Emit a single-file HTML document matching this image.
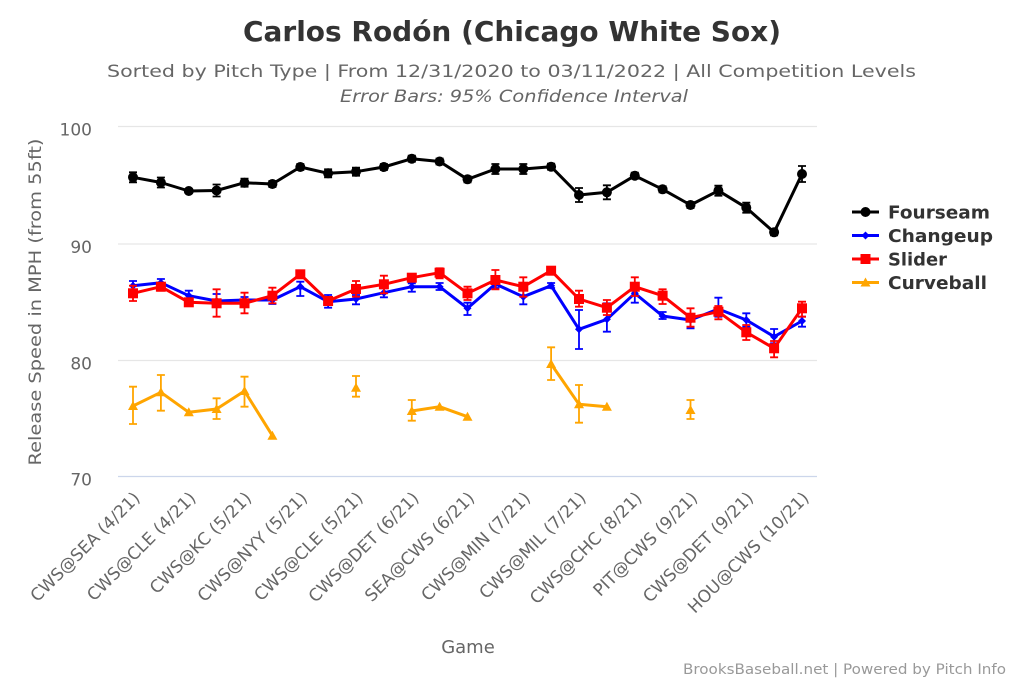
<!DOCTYPE html>
<html><head><meta charset="utf-8"><style>
html,body{margin:0;padding:0;background:#fff;}
svg{display:block;}
text{font-family:"DejaVu Sans","Liberation Sans",sans-serif;}
</style></head><body>
<svg width="1024" height="683" viewBox="0 0 1024 683" xmlns="http://www.w3.org/2000/svg">
<rect width="1024" height="683" fill="#fff"/>
<!-- titles -->
<text x="512" y="41" text-anchor="middle" font-size="28" font-weight="bold" fill="#333" textLength="538" lengthAdjust="spacingAndGlyphs">Carlos Rodón (Chicago White Sox)</text>
<text x="511.5" y="77" text-anchor="middle" font-size="17" fill="#666" textLength="809" lengthAdjust="spacingAndGlyphs">Sorted by Pitch Type | From 12/31/2020 to 03/11/2022 | All Competition Levels</text>
<text x="514" y="102" text-anchor="middle" font-size="17" font-style="italic" fill="#666" textLength="348" lengthAdjust="spacingAndGlyphs">Error Bars: 95% Confidence Interval</text>
<!-- grid -->
<g stroke="#e6e6e6" stroke-width="1.3">
<line x1="118" x2="817" y1="126.5" y2="126.5"/>
<line x1="118" x2="817" y1="244" y2="244"/>
<line x1="118" x2="817" y1="360.5" y2="360.5"/>
</g>
<line x1="118" x2="817" y1="476.5" y2="476.5" stroke="#ccd6eb" stroke-width="1.3"/>
<!-- y ticks -->
<g font-size="17" fill="#666" text-anchor="end">
<text x="92" y="135.5">100</text>
<text x="92" y="253">90</text>
<text x="92" y="369.5">80</text>
<text x="92" y="485.5">70</text>
</g>
<text transform="translate(41,302) rotate(-90)" text-anchor="middle" font-size="17" fill="#666" textLength="327" lengthAdjust="spacingAndGlyphs">Release Speed in MPH (from 55ft)</text>
<!-- x labels -->
<g font-size="17" fill="#666" text-anchor="end">
<text transform="translate(141,499) rotate(-45)">CWS@SEA (4/21)</text>
<text transform="translate(196.8,499) rotate(-45)">CWS@CLE (4/21)</text>
<text transform="translate(252.5,499) rotate(-45)">CWS@KC (5/21)</text>
<text transform="translate(308.3,499) rotate(-45)">CWS@NYY (5/21)</text>
<text transform="translate(364,499) rotate(-45)">CWS@CLE (5/21)</text>
<text transform="translate(419.8,499) rotate(-45)">CWS@DET (6/21)</text>
<text transform="translate(475.5,499) rotate(-45)">SEA@CWS (6/21)</text>
<text transform="translate(531.3,499) rotate(-45)">CWS@MIN (7/21)</text>
<text transform="translate(587,499) rotate(-45)">CWS@MIL (7/21)</text>
<text transform="translate(642.8,499) rotate(-45)">CWS@CHC (8/21)</text>
<text transform="translate(698.5,499) rotate(-45)">PIT@CWS (9/21)</text>
<text transform="translate(754.3,499) rotate(-45)">CWS@DET (9/21)</text>
<text transform="translate(810,499) rotate(-45)">HOU@CWS (10/21)</text>
</g>
<text x="468" y="653" text-anchor="middle" font-size="18" fill="#666">Game</text>
<text x="1006" y="674" text-anchor="end" font-size="14" fill="#999" textLength="323" lengthAdjust="spacingAndGlyphs">BrooksBaseball.net | Powered by Pitch Info</text>

<!-- Fourseam -->
<g stroke="#000" stroke-width="1.8" fill="none">
<path d="M133 172.3V182.3M129 172.3H137M129 182.3H137
M160.9 177.5V187.5M156.9 177.5H164.9M156.9 187.5H164.9
M188.8 189V193M184.8 189H192.8M184.8 193H192.8
M216.6 184.5V196.5M212.6 184.5H220.6M212.6 196.5H220.6
M244.5 178.7V186.7M240.5 178.7H248.5M240.5 186.7H248.5
M272.4 181V187M268.4 181H276.4M268.4 187H276.4
M300.3 164V170M296.3 164H304.3M296.3 170H304.3
M328.1 169.3V177.3M324.1 169.3H332.1M324.1 177.3H332.1
M356 167.7V175.7M352 167.7H360M352 175.7H360
M383.9 164V170M379.9 164H387.9M379.9 170H387.9
M411.8 155.7V161.7M407.8 155.7H415.8M407.8 161.7H415.8
M439.6 158.5V164.5M435.6 158.5H443.6M435.6 164.5H443.6
M467.5 176.3V182.3M463.5 176.3H471.5M463.5 182.3H471.5
M495.4 164V174M491.4 164H499.4M491.4 174H499.4
M523.3 164V174M519.3 164H527.3M519.3 174H527.3
M551.1 163.7V169.7M547.1 163.7H555.1M547.1 169.7H555.1
M579 188V202M575 188H583M575 202H583
M606.9 185.3V199.3M602.9 185.3H610.9M602.9 199.3H610.9
M634.8 172.7V178.7M630.8 172.7H638.8M630.8 178.7H638.8
M662.6 186.3V192.3M658.6 186.3H666.6M658.6 192.3H666.6
M690.5 202V208M686.5 202H694.5M686.5 208H694.5
M718.4 185.7V195.7M714.4 185.7H722.4M714.4 195.7H722.4
M746.3 202.7V212.7M742.3 202.7H750.3M742.3 212.7H750.3
M774.1 229.3V235.3M770.1 229.3H778.1M770.1 235.3H778.1
M802 166V182M798 166H806M798 182H806"/>
</g>
<polyline fill="none" stroke="#000" stroke-width="3" stroke-linejoin="round" points="133,177.3 160.9,182.5 188.8,191 216.6,190.5 244.5,182.7 272.4,184 300.3,167 328.1,173.3 356,171.7 383.9,167 411.8,158.7 439.6,161.5 467.5,179.3 495.4,169 523.3,169 551.1,166.7 579,195 606.9,192.3 634.8,175.7 662.6,189.3 690.5,205 718.4,190.7 746.3,207.7 774.1,232.3 802,174"/>
<g fill="#000">
<circle cx="133" cy="177.3" r="5"/><circle cx="160.9" cy="182.5" r="5"/><circle cx="188.8" cy="191" r="5"/><circle cx="216.6" cy="190.5" r="5"/><circle cx="244.5" cy="182.7" r="5"/><circle cx="272.4" cy="184" r="5"/><circle cx="300.3" cy="167" r="5"/><circle cx="328.1" cy="173.3" r="5"/><circle cx="356" cy="171.7" r="5"/><circle cx="383.9" cy="167" r="5"/><circle cx="411.8" cy="158.7" r="5"/><circle cx="439.6" cy="161.5" r="5"/><circle cx="467.5" cy="179.3" r="5"/><circle cx="495.4" cy="169" r="5"/><circle cx="523.3" cy="169" r="5"/><circle cx="551.1" cy="166.7" r="5"/><circle cx="579" cy="195" r="5"/><circle cx="606.9" cy="192.3" r="5"/><circle cx="634.8" cy="175.7" r="5"/><circle cx="662.6" cy="189.3" r="5"/><circle cx="690.5" cy="205" r="5"/><circle cx="718.4" cy="190.7" r="5"/><circle cx="746.3" cy="207.7" r="5"/><circle cx="774.1" cy="232.3" r="5"/><circle cx="802" cy="174" r="5"/>
</g>

<!-- Changeup -->
<g stroke="#0000ff" stroke-width="1.8" fill="none">
<path d="M133 281V290M129 281H137M129 290H137
M160.9 279V286M156.9 279H164.9M156.9 286H164.9
M188.8 290.7V300M184.8 290.7H192.8M184.8 300H192.8
M216.6 294V303M212.6 294H220.6M212.6 303H220.6
M244.5 297V303M240.5 297H248.5M240.5 303H248.5
M272.4 296V304M268.4 296H276.4M268.4 304H276.4
M300.3 281.7V296M296.3 281.7H304.3M296.3 296H304.3
M328.1 295V307.7M324.1 295H332.1M324.1 307.7H332.1
M356 295V304.3M352 295H360M352 304.3H360
M383.9 288.3V297.3M379.9 288.3H387.9M379.9 297.3H387.9
M411.8 283.3V291.7M407.8 283.3H415.8M407.8 291.7H415.8
M439.6 283V290M435.6 283H443.6M435.6 290H443.6
M467.5 302.7V315M463.5 302.7H471.5M463.5 315H471.5
M495.4 280V288M491.4 280H499.4M491.4 288H499.4
M523.3 290V304.3M519.3 290H527.3M519.3 304.3H527.3
M551.1 283V288M547.1 283H555.1M547.1 288H555.1
M579 310V349M575 310H583M575 349H583
M606.9 303.3V331.7M602.9 303.3H610.9M602.9 331.7H610.9
M634.8 286.7V302.7M630.8 286.7H638.8M630.8 302.7H638.8
M662.6 312V319M658.6 312H666.6M658.6 319H666.6
M690.5 315V328.3M686.5 315H694.5M686.5 328.3H694.5
M718.4 297.7V316.7M714.4 297.7H722.4M714.4 316.7H722.4
M746.3 313.3V326.7M742.3 313.3H750.3M742.3 326.7H750.3
M774.1 329V343.3M770.1 329H778.1M770.1 343.3H778.1
M802 316.7V326.7M798 316.7H806M798 326.7H806"/>
</g>
<polyline fill="none" stroke="#0000ff" stroke-width="3" stroke-linejoin="round" points="133,285.7 160.9,282.7 188.8,295.7 216.6,301 244.5,300 272.4,300 300.3,286.7 328.1,301.7 356,299 383.9,292.7 411.8,286.7 439.6,286.7 467.5,308.3 495.4,284 523.3,296.7 551.1,285.7 579,329.3 606.9,319.3 634.8,293.3 662.6,316 690.5,320 718.4,309 746.3,320 774.1,336.7 802,321"/>
<g fill="#0000ff">
<path d="M133 281.7l4 4-4 4-4-4z M160.9 278.7l4 4-4 4-4-4z M188.8 291.7l4 4-4 4-4-4z M216.6 297l4 4-4 4-4-4z M244.5 296l4 4-4 4-4-4z M272.4 296l4 4-4 4-4-4z M300.3 282.7l4 4-4 4-4-4z M328.1 297.7l4 4-4 4-4-4z M356 295l4 4-4 4-4-4z M383.9 288.7l4 4-4 4-4-4z M411.8 282.7l4 4-4 4-4-4z M439.6 282.7l4 4-4 4-4-4z M467.5 304.3l4 4-4 4-4-4z M495.4 280l4 4-4 4-4-4z M523.3 292.7l4 4-4 4-4-4z M551.1 281.7l4 4-4 4-4-4z M579 325.3l4 4-4 4-4-4z M606.9 315.3l4 4-4 4-4-4z M634.8 289.3l4 4-4 4-4-4z M662.6 312l4 4-4 4-4-4z M690.5 316l4 4-4 4-4-4z M718.4 305l4 4-4 4-4-4z M746.3 316l4 4-4 4-4-4z M774.1 332.7l4 4-4 4-4-4z M802 317l4 4-4 4-4-4z"/>
</g>

<!-- Slider -->
<g stroke="#ff0000" stroke-width="1.8" fill="none">
<path d="M133 285.7V301M129 285.7H137M129 301H137
M160.9 283.3V290.7M156.9 283.3H164.9M156.9 290.7H164.9
M188.8 299V305M184.8 299H192.8M184.8 305H192.8
M216.6 289.3V316.7M212.6 289.3H220.6M212.6 316.7H220.6
M244.5 292.7V313.3M240.5 292.7H248.5M240.5 313.3H248.5
M272.4 287.7V303.3M268.4 287.7H276.4M268.4 303.3H276.4
M300.3 271V277M296.3 271H304.3M296.3 277H304.3
M328.1 298V304M324.1 298H332.1M324.1 304H332.1
M356 281V296.7M352 281H360M352 296.7H360
M383.9 275.7V293.3M379.9 275.7H387.9M379.9 293.3H387.9
M411.8 274V281M407.8 274H415.8M407.8 281H415.8
M439.6 268.3V278.3M435.6 268.3H443.6M435.6 278.3H443.6
M467.5 286.7V300M463.5 286.7H471.5M463.5 300H471.5
M495.4 270V289.3M491.4 270H499.4M491.4 289.3H499.4
M523.3 277.3V296.7M519.3 277.3H527.3M519.3 296.7H527.3
M551.1 268V273M547.1 268H555.1M547.1 273H555.1
M579 290.7V306.7M575 290.7H583M575 306.7H583
M606.9 300V315M602.9 300H610.9M602.9 315H610.9
M634.8 277.3V296M630.8 277.3H638.8M630.8 296H638.8
M662.6 289.3V304M658.6 289.3H666.6M658.6 304H666.6
M690.5 308.3V326.7M686.5 308.3H694.5M686.5 326.7H694.5
M718.4 306V319.3M714.4 306H722.4M714.4 319.3H722.4
M746.3 325V340M742.3 325H750.3M742.3 340H750.3
M774.1 341V357.3M770.1 341H778.1M770.1 357.3H778.1
M802 301.7V316.7M798 301.7H806M798 316.7H806"/>
</g>
<polyline fill="none" stroke="#ff0000" stroke-width="3" stroke-linejoin="round" points="133,293.3 160.9,286.7 188.8,302.3 216.6,303.3 244.5,303.3 272.4,295.7 300.3,274.3 328.1,301 356,289 383.9,284.3 411.8,277.7 439.6,272.7 467.5,293.3 495.4,280 523.3,286.7 551.1,270.7 579,299 606.9,307.7 634.8,286.7 662.6,295.7 690.5,317.7 718.4,311.7 746.3,332.3 774.1,348.3 802,308.3"/>
<g fill="#ff0000">
<rect x="128" y="288.3" width="10" height="10"/><rect x="155.9" y="281.7" width="10" height="10"/><rect x="183.8" y="297.3" width="10" height="10"/><rect x="211.6" y="298.3" width="10" height="10"/><rect x="239.5" y="298.3" width="10" height="10"/><rect x="267.4" y="290.7" width="10" height="10"/><rect x="295.3" y="269.3" width="10" height="10"/><rect x="323.1" y="296" width="10" height="10"/><rect x="351" y="284" width="10" height="10"/><rect x="378.9" y="279.3" width="10" height="10"/><rect x="406.8" y="272.7" width="10" height="10"/><rect x="434.6" y="267.7" width="10" height="10"/><rect x="462.5" y="288.3" width="10" height="10"/><rect x="490.4" y="275" width="10" height="10"/><rect x="518.3" y="281.7" width="10" height="10"/><rect x="546.1" y="265.7" width="10" height="10"/><rect x="574" y="294" width="10" height="10"/><rect x="601.9" y="302.7" width="10" height="10"/><rect x="629.8" y="281.7" width="10" height="10"/><rect x="657.6" y="290.7" width="10" height="10"/><rect x="685.5" y="312.7" width="10" height="10"/><rect x="713.4" y="306.7" width="10" height="10"/><rect x="741.3" y="327.3" width="10" height="10"/><rect x="769.1" y="343.3" width="10" height="10"/><rect x="797" y="303.3" width="10" height="10"/>
</g>

<!-- Curveball -->
<g stroke="#ffa500" stroke-width="1.8" fill="none">
<path d="M133 386.7V424M129 386.7H137M129 424H137
M160.9 375V410.7M156.9 375H164.9M156.9 410.7H164.9
M216.6 398.3V419M212.6 398.3H220.6M212.6 419H220.6
M244.5 376.7V406.7M240.5 376.7H248.5M240.5 406.7H248.5
M356 376V396.7M352 376H360M352 396.7H360
M411.8 400V420.7M407.8 400H415.8M407.8 420.7H415.8
M551.1 347.3V380M547.1 347.3H555.1M547.1 380H555.1
M579 385V422.7M575 385H583M575 422.7H583
M690.5 400V419M686.5 400H694.5M686.5 419H694.5"/>
</g>
<g fill="none" stroke="#ffa500" stroke-width="3" stroke-linejoin="round">
<polyline points="133,406 160.9,392.3 188.8,412.3 216.6,409 244.5,391 272.4,435.7"/>
<polyline points="411.8,411 439.6,406.7 467.5,416.7"/>
<polyline points="551.1,364 579,404.3 606.9,406.7"/>
</g>
<g fill="#ffa500">
<path d="M133 401l5 9h-10z M160.9 387.3l5 9h-10z M188.8 407.3l5 9h-10z M216.6 404l5 9h-10z M244.5 386l5 9h-10z M272.4 430.7l5 9h-10z M356 382.7l5 9h-10z M411.8 406l5 9h-10z M439.6 401.7l5 9h-10z M467.5 411.7l5 9h-10z M551.1 359l5 9h-10z M579 399.3l5 9h-10z M606.9 401.7l5 9h-10z M690.5 405l5 9h-10z"/>
</g>

<!-- legend -->
<g stroke-width="3">
<line x1="852" x2="879" y1="212" y2="212" stroke="#000"/>
<line x1="852" x2="879" y1="235.5" y2="235.5" stroke="#0000ff"/>
<line x1="852" x2="879" y1="259" y2="259" stroke="#ff0000"/>
<line x1="852" x2="879" y1="282.5" y2="282.5" stroke="#ffa500"/>
</g>
<circle cx="865.5" cy="212" r="5" fill="#000"/>
<path d="M865.5 231.5l4 4-4 4-4-4z" fill="#0000ff"/>
<rect x="860.5" y="254" width="10" height="10" fill="#ff0000"/>
<path d="M865.5 277.5l5 9h-10z" fill="#ffa500"/>
<g font-size="18" font-weight="bold" fill="#333">
<text x="888" y="218.5" textLength="102" lengthAdjust="spacingAndGlyphs">Fourseam</text>
<text x="888" y="242" textLength="105" lengthAdjust="spacingAndGlyphs">Changeup</text>
<text x="888" y="265.5" textLength="59" lengthAdjust="spacingAndGlyphs">Slider</text>
<text x="888" y="289" textLength="99" lengthAdjust="spacingAndGlyphs">Curveball</text>
</g>
</svg>
</body></html>
